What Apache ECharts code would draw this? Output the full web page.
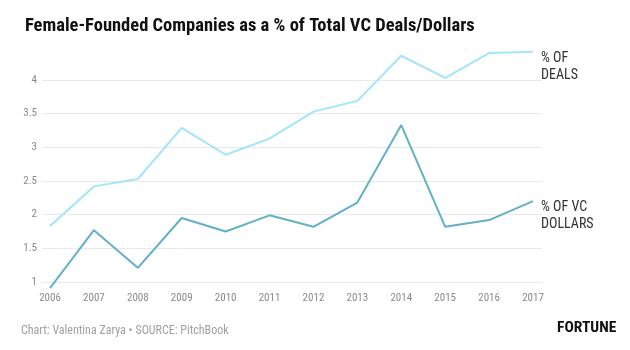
<!DOCTYPE html>
<html>
<head>
<meta charset="utf-8">
<script src="https://cdn.jsdelivr.net/npm/echarts@6/dist/echarts.min.js"></script>
<style>
  html, body { margin: 0; padding: 0; background: #fff; }
  #chart { width: 630px; height: 350px; }
</style>
</head>
<body>
<div id="chart"></div>
<script>
let years = ['2006', '2007', '2008', '2009', '2010', '2011', '2012', '2013', '2014', '2015', '2016', '2017']
let deals = [1.83, 2.42, 2.53, 3.29, 2.89, 3.13, 3.53, 3.69, 4.36, 4.03, 4.40, 4.42]
let dollars = [0.91, 1.77, 1.21, 1.95, 1.75, 1.99, 1.82, 2.18, 3.33, 1.82, 1.92, 2.20]
let yTicks = [1, 1.5, 2, 2.5, 3, 3.5, 4]

let font = "'Roboto Condensed', 'Liberation Sans Narrow', 'DejaVu Sans Condensed', Roboto, sans-serif"
let chart = echarts.init(document.getElementById('chart'))

let option = {
  backgroundColor: '#fff',
  animation: false,
  title: [{
    text: 'Female-Founded Companies as a % of Total VC Deals/Dollars',
    left: 20,
    top: 12,
    textStyle: { fontFamily: font, fontWeight: 'bold', fontSize: 18.5, color: '#111' }
  }, {
    text: 'Chart: Valentina Zarya • SOURCE: PitchBook',
    left: 16,
    top: 320,
    textStyle: { fontFamily: font, fontWeight: 'normal', fontSize: 12, color: '#a0a0a0' }
  }, {
    text: 'FORTUNE',
    left: 552,
    top: 315,
    textStyle: { fontFamily: font, fontWeight: 'bold', fontSize: 15.5, color: '#111' }
  }],
  grid: [
    // gridlines only
    { left: 42, right: 88, top: 80, bottom: 68 },
    // data
    { left: 50, right: 97, top: 80, bottom: 68 }
  ],
  xAxis: [{
    gridIndex: 0, type: 'value', min: 0, max: 1, show: false
  }, {
    gridIndex: 1,
    type: 'category',
    data: years,
    boundaryGap: false,
    axisLine: { show: false },
    axisTick: { show: false },
    splitLine: { show: false },
    axisLabel: { margin: 11, fontFamily: font, fontSize: 11, color: '#8a8a8a' }
  }],
  yAxis: [{
    gridIndex: 0,
    type: 'value',
    min: yTicks[0],
    max: yTicks[yTicks.length - 1],
    interval: 0.5,
    axisLine: { show: false },
    axisTick: { show: false },
    axisLabel: { margin: 5, fontFamily: font, fontSize: 11, color: '#8a8a8a' },
    splitLine: { lineStyle: { color: '#e9e9e9', width: 1 } }
  }, {
    gridIndex: 1,
    type: 'value',
    min: yTicks[0],
    max: yTicks[yTicks.length - 1],
    show: false,
    splitLine: { show: false }
  }],
  series: [{
    name: '% OF DEALS',
    type: 'line',
    xAxisIndex: 1,
    yAxisIndex: 1,
    data: deals,
    clip: false,
    symbol: 'none',
    lineStyle: { color: '#a3e5fa', width: 2 },
    endLabel: {
      show: true,
      formatter: '% OF\nDEALS',
      distance: 8,
      align: 'left',
      verticalAlign: 'top',
      offset: [0, -2],
      fontFamily: font,
      fontSize: 14,
      lineHeight: 17,
      color: '#333'
    }
  }, {
    name: '% OF VC DOLLARS',
    type: 'line',
    xAxisIndex: 1,
    yAxisIndex: 1,
    data: dollars,
    clip: false,
    symbol: 'none',
    lineStyle: { color: '#62b1c8', width: 2 },
    endLabel: {
      show: true,
      formatter: '% OF VC\nDOLLARS',
      distance: 8,
      align: 'left',
      verticalAlign: 'top',
      offset: [0, -2],
      fontFamily: font,
      fontSize: 14,
      lineHeight: 17,
      color: '#333'
    }
  }]
}
chart.setOption(option)
</script>
</body>
</html>
